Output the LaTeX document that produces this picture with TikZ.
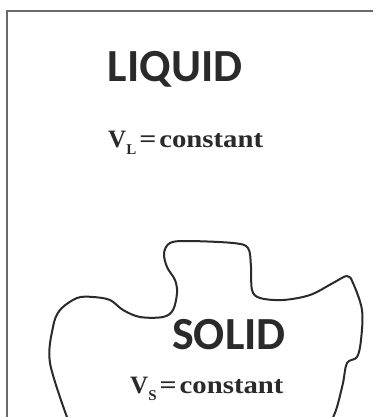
\documentclass[tikz,border=0pt]{standalone}
\usepackage{fontspec}
\newfontfamily\carl{Carlito}
\newfontfamily\tms{Liberation Serif}
\usetikzlibrary{calc}
\definecolor{ink}{HTML}{2A2A2A}
\tikzset{
  big/.style={font=\carl\bfseries\fontsize{46}{46}\selectfont, text=ink, inner sep=0pt, anchor=center},
  eq/.style={font=\tms\bfseries\fontsize{25}{25}\selectfont, text=ink, inner sep=0pt, anchor=base west},
  frame/.style={draw=ink!70, line width=1.6pt},
  blob/.style={draw=ink, line width=2pt, line join=round}
}
\newcommand{\eqtext}[1]{V\raisebox{-7pt}{\fontsize{15}{15}\selectfont #1}\hspace{3pt}\scalebox{1.2}[1]{=}\hspace{3pt}\scalebox{1.15}[1]{constant}}
\begin{document}
\begin{tikzpicture}[x=1pt,y=-1pt]
\useasboundingbox (0,0) rectangle (377,417);
\fill[white] (0,0) rectangle (377,417);
\begin{scope}
\clip (0,0) rectangle (377,417);
\draw[frame] (7,430) -- (7,11) -- (373,11);
\draw[blob] plot[smooth, tension=0.55] coordinates {
 (68,420) (50,363) (53,327) (60,310) (77,298) (93,297) (110,300) (123,310)
 (140,317) (163,317) (173,310) (177,293) (175,280) (167,267) (164,253)
 (170,243) (187,241) (233,243) (248,248) (251,267) (252,290) (260,298)
 (283,300) (310,295) (333,283) (347,276) (353,283) (362,310) (361,340)
 (357,357) (347,363) (343,383) (337,407) (332,420)};
\end{scope}
\node[big] (liquid) at (175,69) {LIQUID};
\node[eq] (vl) at (108,147) {\eqtext{L}};
\node[big] (solid) at (229,335) {SOLID};
\node[eq] (vs) at (130,393) {\eqtext{S}};
\end{tikzpicture}
\end{document}
